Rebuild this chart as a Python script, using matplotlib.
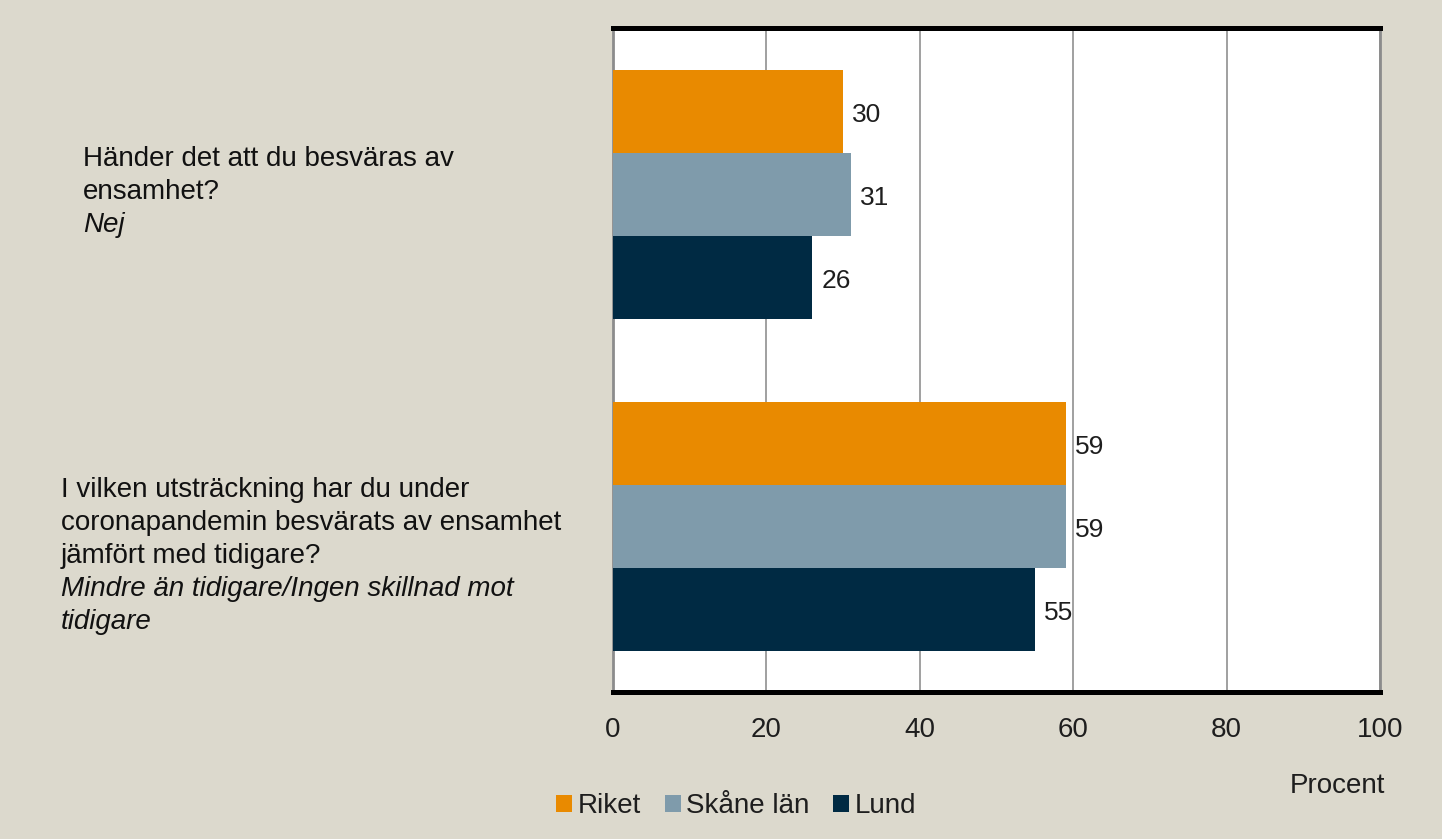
import matplotlib.pyplot as plt
from matplotlib.patches import Patch

# --- data ---
question_lines = [
    ["Händer det att du besväras av", "ensamhet?"],
    ["I vilken utsträckning har du under", "coronapandemin besvärats av ensamhet",
     "jämfört med tidigare?"],
]
answer_lines = [
    ["Nej"],
    ["Mindre än tidigare/Ingen skillnad mot", "tidigare"],
]
series_names = ["Riket", "Skåne län", "Lund"]
riket = [30, 59]
skane = [31, 59]
lund = [26, 55]
xticks = [0, 20, 40, 60, 80, 100]

BG = "#dcd9cd"
COLORS = ["#e98a00", "#7f9bab", "#002a43"]
FONT = "Liberation Sans"
TXT = "#1e1e1e"

W, H = 1442, 839
fig = plt.figure(figsize=(W / 100, H / 100), dpi=100, facecolor=BG)
ax = fig.add_axes([613 / W, 1 - 692 / H, (1380 - 613) / W, (692 - 28) / H])
ax.set_facecolor("white")

bar_h = 0.25
offsets = [-bar_h, 0, bar_h]
for vals, off, col in zip([riket, skane, lund], offsets, COLORS):
    for i, v in enumerate(vals):
        ax.barh(i + off, v, height=bar_h, color=col, zorder=3)
        ax.annotate(str(v), (v, i + off), xytext=(9, -11), textcoords="offset pixels",
                    va="baseline", ha="left", fontsize=19, color=TXT,
                    family=FONT, zorder=4)

ax.set_xlim(0, 100)
ax.set_ylim(1.5, -0.5)
ax.set_xticks(xticks)
ax.set_xticklabels([str(t) for t in xticks], fontsize=20, color=TXT, family=FONT)
ax.tick_params(axis="x", length=0, pad=18)
ax.set_yticks([])
ax.grid(axis="x", color="#a0a0a0", linewidth=1.4, zorder=1)

for side in ["top", "bottom"]:
    ax.spines[side].set_color("black")
    ax.spines[side].set_linewidth(3.6)
for side in ["left", "right"]:
    ax.spines[side].set_color("#8c8c8c")
    ax.spines[side].set_linewidth(2)

# question labels, one text per line (baselines in pixels)
label_x = [83, 61]
label_y = [166, 497]
line_step = 33
for qs, ans, lx, ly in zip(question_lines, answer_lines, label_x, label_y):
    for k, line in enumerate(qs + ans):
        fig.text(lx / W, 1 - (ly + k * line_step) / H, line, ha="left", va="baseline",
                 fontsize=20, family=FONT, color="#111111",
                 style="italic" if k >= len(qs) else "normal")

fig.text(1385 / W, 1 - 793 / H, "Procent", ha="right", va="baseline", fontsize=20,
         family=FONT, color=TXT)

handles = [Patch(facecolor=c, edgecolor="none") for c in COLORS]
leg = fig.legend(handles, series_names, loc="center left", bbox_to_anchor=(556 / W, 1 - 806 / H),
                 ncol=3, frameon=False, handlelength=0.58, handleheight=0.58,
                 handletextpad=0.2, columnspacing=0.85, borderpad=0, borderaxespad=0,
                 prop={"family": FONT, "size": 20})
for t in leg.get_texts():
    t.set_color(TXT)

fig.savefig("out.png", dpi=100, facecolor=BG)
